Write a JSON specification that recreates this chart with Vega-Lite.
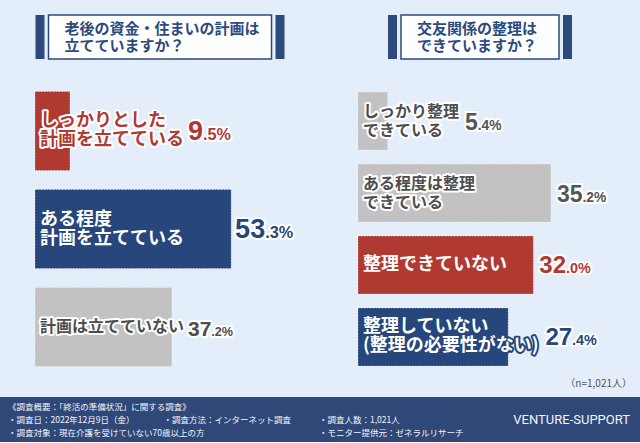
{
  "$schema": "https://vega.github.io/schema/vega-lite/v6.json",
  "background": "#e4eefa",
  "padding": {"top": 14, "left": 0, "right": 0, "bottom": 0},
  "spacing": 0,
  "config": {
    "view": {"stroke": null},
    "concat": {"spacing": 0},
    "text": {"font": "Noto Sans CJK JP"},
    "title": {"font": "Noto Sans CJK JP"}
  },
  "datasets": {
    "q1": [
      {"answer": "しっかりとした計画を立てている", "label": "しっかりとした\n計画を立てている", "value": 9.5},
      {"answer": "ある程度計画を立てている", "label": "ある程度\n計画を立てている", "value": 53.3},
      {"answer": "計画は立てていない", "label": "計画は立てていない", "value": 37.2}
    ],
    "q2": [
      {"answer": "しっかり整理できている", "label": "しっかり整理\nできている", "value": 5.4},
      {"answer": "ある程度は整理できている", "label": "ある程度は整理\nできている", "value": 35.2},
      {"answer": "整理できていない", "label": "整理できていない", "value": 32.0},
      {"answer": "整理していない（整理の必要性がない）", "label": "整理していない\n(整理の必要性がない)", "value": 27.4}
    ],
    "titles": [
      {"panel": "q1", "title": "老後の資金・住まいの計画は\n立てていますか？"},
      {"panel": "q2", "title": "交友関係の整理は\nできていますか？"}
    ],
    "footer": [
      {"col": "summary", "text": "《調査概要：「終活の準備状況」に関する調査》\n・調査日：2022年12月9日（金）\n・調査対象：現在介護を受けていない70歳以上の方"},
      {"col": "method", "text": "\n・調査方法：インターネット調査\n"},
      {"col": "count", "text": "\n・調査人数：1,021人\n・モニター提供元：ゼネラルリサーチ"},
      {"col": "brand", "text": "VENTURE-SUPPORT"}
    ]
  },
  "vconcat": [
    {
      "hconcat": [
        {
          "vconcat": [
            {
              "hconcat": [
                {"width": 9, "height": 44, "data": {"values": [{}]}, "mark": {"type": "text", "text": ""}, "view": {"fill": "#2d4a7c", "stroke": null}},
                {
                  "width": 223, "height": 44,
                  "data": {"name": "titles"},
                  "transform": [{"filter": "datum.panel == 'q1'"}],
                  "view": {"fill": "white", "stroke": "#2d4a7c", "strokeWidth": 1.5},
                  "mark": {"type": "text", "align": "left", "baseline": "middle", "dx": -95.5, "dy": -8.5, "lineBreak": "\n", "lineHeight": 17, "fontSize": 15, "fontWeight": "bold", "color": "#2d4a7c"},
                  "encoding": {"text": {"field": "title"}}
                },
                {"width": 9, "height": 44, "data": {"values": [{}]}, "mark": {"type": "text", "text": ""}, "view": {"fill": "#2d4a7c", "stroke": null}}
              ],
              "spacing": 3
            },
            {
              "width": 320, "height": 319,
              "data": {"name": "q1"},
              "transform": [
                {"calculate": "format(datum.value, '.1f')", "as": "s"},
                {"calculate": "split(datum.s, '.')[0]", "as": "ip"},
                {"calculate": "'.' + split(datum.s, '.')[1] + '%'", "as": "dp"},
                {"calculate": "indexof(['しっかりとした計画を立てている','ある程度計画を立てている'], datum.answer) >= 0", "as": "em"},
                {"calculate": "datum.em ? 18 : 16", "as": "fs"},
                {"calculate": "datum.em ? 27 : 21", "as": "vs"},
                {"calculate": "datum.vs * 0.6", "as": "ds"},
                {"calculate": "split(datum.label, '\\n')", "as": "lines"},
                {"calculate": "length(datum.lines)", "as": "nl"},
                {"calculate": "datum.fs * max(length(datum.lines[0]), length(peek(datum.lines)))", "as": "lw"},
                {"calculate": "max(datum.value, (5 + datum.lw) / 3.68)", "as": "vx"},
                {"calculate": "datum.vx + (4 + length(datum.ip) * 0.556 * datum.vs) / 3.68", "as": "anchor"}
              ],
              "encoding": {
                "y": {"field": "answer", "type": "nominal", "sort": null, "axis": null, "scale": {"range": [31.5, 306.5], "paddingInner": 0.194, "paddingOuter": 0}}
              },
              "layer": [
                {
                  "mark": {"type": "bar", "stroke": "white", "strokeDash": [1, 2], "strokeOpacity": 0.6, "strokeWidth": 1},
                  "encoding": {
                    "x": {"field": "value", "type": "quantitative", "axis": null, "scale": {"domain": [0, 100], "range": [35, 403]}},
                    "color": {"field": "answer", "type": "nominal", "legend": null, "scale": {"domain": ["しっかりとした計画を立てている", "ある程度計画を立てている", "計画は立てていない"], "range": ["#b03a32", "#26467c", "#c2c2c2"]}}
                  }
                },
                {
                  "transform": [{"filter": "datum.nl == 2"}],
                  "mark": {"type": "text", "align": "left", "baseline": "middle", "dx": 5, "dy": -9.5, "lineBreak": "\n", "lineHeight": 19, "fontWeight": "bold", "fillOpacity": 0, "strokeWidth": 4, "strokeJoin": "round"},
                  "encoding": {
                    "x": {"datum": 0, "type": "quantitative"},
                    "text": {"field": "label"},
                    "size": {"field": "fs", "type": "quantitative", "scale": null},
                    "stroke": {"field": "answer", "type": "nominal", "legend": null, "scale": {"domain": ["しっかりとした計画を立てている", "ある程度計画を立てている", "計画は立てていない"], "range": ["#ffffff", "#26467c", "#ffffff"]}}
                  }
                },
                {
                  "transform": [{"filter": "datum.nl == 1"}],
                  "mark": {"type": "text", "align": "left", "baseline": "middle", "dx": 5, "lineBreak": "\n", "lineHeight": 19, "fontWeight": "bold", "fillOpacity": 0, "strokeWidth": 4, "strokeJoin": "round"},
                  "encoding": {
                    "x": {"datum": 0, "type": "quantitative"},
                    "text": {"field": "label"},
                    "size": {"field": "fs", "type": "quantitative", "scale": null},
                    "stroke": {"field": "answer", "type": "nominal", "legend": null, "scale": {"domain": ["しっかりとした計画を立てている", "ある程度計画を立てている", "計画は立てていない"], "range": ["#ffffff", "#26467c", "#ffffff"]}}
                  }
                },
                {
                  "transform": [{"filter": "datum.nl == 2"}],
                  "mark": {"type": "text", "align": "left", "baseline": "middle", "dx": 5, "dy": -9.5, "lineBreak": "\n", "lineHeight": 19, "fontWeight": "bold"},
                  "encoding": {
                    "x": {"datum": 0, "type": "quantitative"},
                    "text": {"field": "label"},
                    "size": {"field": "fs", "type": "quantitative", "scale": null},
                    "color": {"field": "answer", "type": "nominal", "legend": null, "scale": {"domain": ["しっかりとした計画を立てている", "ある程度計画を立てている", "計画は立てていない"], "range": ["#b03a32", "#ffffff", "#4d4d4d"]}}
                  }
                },
                {
                  "transform": [{"filter": "datum.nl == 1"}],
                  "mark": {"type": "text", "align": "left", "baseline": "middle", "dx": 5, "lineBreak": "\n", "lineHeight": 19, "fontWeight": "bold"},
                  "encoding": {
                    "x": {"datum": 0, "type": "quantitative"},
                    "text": {"field": "label"},
                    "size": {"field": "fs", "type": "quantitative", "scale": null},
                    "color": {"field": "answer", "type": "nominal", "legend": null, "scale": {"domain": ["しっかりとした計画を立てている", "ある程度計画を立てている", "計画は立てていない"], "range": ["#b03a32", "#ffffff", "#4d4d4d"]}}
                  }
                },
                {
                  "mark": {"type": "text", "align": "right", "baseline": "alphabetic", "dy": 9, "font": "Liberation Sans", "fontWeight": "bold", "fill": "white", "stroke": "white", "strokeWidth": 4, "strokeJoin": "round"},
                  "encoding": {
                    "x": {"field": "anchor", "type": "quantitative"},
                    "text": {"field": "ip"},
                    "size": {"field": "vs", "type": "quantitative", "scale": null}
                  }
                },
                {
                  "mark": {"type": "text", "align": "left", "baseline": "alphabetic", "dy": 9, "font": "Liberation Sans", "fontWeight": "bold", "fill": "white", "stroke": "white", "strokeWidth": 4, "strokeJoin": "round"},
                  "encoding": {
                    "x": {"field": "anchor", "type": "quantitative"},
                    "text": {"field": "dp"},
                    "size": {"field": "ds", "type": "quantitative", "scale": null}
                  }
                },
                {
                  "mark": {"type": "text", "align": "right", "baseline": "alphabetic", "dy": 9, "font": "Liberation Sans", "fontWeight": "bold"},
                  "encoding": {
                    "x": {"field": "anchor", "type": "quantitative"},
                    "text": {"field": "ip"},
                    "size": {"field": "vs", "type": "quantitative", "scale": null},
                    "color": {"field": "answer", "type": "nominal", "legend": null, "scale": {"domain": ["しっかりとした計画を立てている", "ある程度計画を立てている", "計画は立てていない"], "range": ["#b03a32", "#26467c", "#4d4d4d"]}}
                  }
                },
                {
                  "mark": {"type": "text", "align": "left", "baseline": "alphabetic", "dy": 9, "font": "Liberation Sans", "fontWeight": "bold"},
                  "encoding": {
                    "x": {"field": "anchor", "type": "quantitative"},
                    "text": {"field": "dp"},
                    "size": {"field": "ds", "type": "quantitative", "scale": null},
                    "color": {"field": "answer", "type": "nominal", "legend": null, "scale": {"domain": ["しっかりとした計画を立てている", "ある程度計画を立てている", "計画は立てていない"], "range": ["#b03a32", "#26467c", "#4d4d4d"]}}
                  }
                }
              ],
              "resolve": {"scale": {"color": "independent", "stroke": "independent"}}
            }
          ],
          "spacing": 0,
          "center": true
        },
        {
          "vconcat": [
            {
              "hconcat": [
                {"width": 9, "height": 44, "data": {"values": [{}]}, "mark": {"type": "text", "text": ""}, "view": {"fill": "#2d4a7c", "stroke": null}},
                {
                  "width": 158, "height": 44,
                  "data": {"name": "titles"},
                  "transform": [{"filter": "datum.panel == 'q2'"}],
                  "view": {"fill": "white", "stroke": "#2d4a7c", "strokeWidth": 1.5},
                  "mark": {"type": "text", "align": "left", "baseline": "middle", "dx": -63, "dy": -8.5, "lineBreak": "\n", "lineHeight": 17, "fontSize": 15, "fontWeight": "bold", "color": "#2d4a7c"},
                  "encoding": {"text": {"field": "title"}}
                },
                {"width": 9, "height": 44, "data": {"values": [{}]}, "mark": {"type": "text", "text": ""}, "view": {"fill": "#2d4a7c", "stroke": null}}
              ],
              "spacing": 3
            },
            {
              "width": 320, "height": 319,
              "data": {"name": "q2"},
              "transform": [
                {"calculate": "format(datum.value, '.1f')", "as": "s"},
                {"calculate": "split(datum.s, '.')[0]", "as": "ip"},
                {"calculate": "'.' + split(datum.s, '.')[1] + '%'", "as": "dp"},
                {"calculate": "indexof(['整理できていない','整理していない（整理の必要性がない）'], datum.answer) >= 0", "as": "em"},
                {"calculate": "datum.em ? 18 : 16", "as": "fs"},
                {"calculate": "datum.em ? 24 : 23", "as": "vs"},
                {"calculate": "datum.vs * 0.6", "as": "ds"},
                {"calculate": "split(datum.label, '\\n')", "as": "lines"},
                {"calculate": "length(datum.lines)", "as": "nl"},
                {"calculate": "length(datum.lines[0]) - 0.6 * (length(datum.lines[0]) - length(replace(datum.lines[0], regexp('[()]', 'g'), '')))", "as": "w1"},
                {"calculate": "length(peek(datum.lines)) - 0.6 * (length(peek(datum.lines)) - length(replace(peek(datum.lines), regexp('[()]', 'g'), '')))", "as": "w2"},
                {"calculate": "datum.fs * max(datum.w1, datum.w2)", "as": "lw"},
                {"calculate": "max(datum.value, (5 + datum.lw) / 5.48)", "as": "vx"},
                {"calculate": "datum.vx + (6 + length(datum.ip) * 0.556 * datum.vs) / 5.48", "as": "anchor"}
              ],
              "encoding": {
                "y": {"field": "answer", "type": "nominal", "sort": null, "axis": null, "scale": {"range": [32, 306], "paddingInner": 0.1944, "paddingOuter": 0}}
              },
              "layer": [
                {
                  "mark": {"type": "bar", "stroke": "white", "strokeDash": [1, 2], "strokeOpacity": 0.6, "strokeWidth": 1},
                  "encoding": {
                    "x": {"field": "value", "type": "quantitative", "axis": null, "scale": {"domain": [0, 100], "range": [38, 586]}},
                    "color": {"field": "answer", "type": "nominal", "legend": null, "scale": {"domain": ["しっかり整理できている", "ある程度は整理できている", "整理できていない", "整理していない（整理の必要性がない）"], "range": ["#c2c2c2", "#c2c2c2", "#b03a32", "#26467c"]}}
                  }
                },
                {
                  "transform": [{"filter": "datum.nl == 2"}],
                  "mark": {"type": "text", "align": "left", "baseline": "middle", "dx": 5, "dy": -9.5, "lineBreak": "\n", "lineHeight": 19, "fontWeight": "bold", "fillOpacity": 0, "strokeWidth": 4, "strokeJoin": "round"},
                  "encoding": {
                    "x": {"datum": 0, "type": "quantitative"},
                    "text": {"field": "label"},
                    "size": {"field": "fs", "type": "quantitative", "scale": null},
                    "stroke": {"field": "answer", "type": "nominal", "legend": null, "scale": {"domain": ["しっかり整理できている", "ある程度は整理できている", "整理できていない", "整理していない（整理の必要性がない）"], "range": ["#ffffff", "#ffffff", "#b03a32", "#26467c"]}}
                  }
                },
                {
                  "transform": [{"filter": "datum.nl == 1"}],
                  "mark": {"type": "text", "align": "left", "baseline": "middle", "dx": 5, "lineBreak": "\n", "lineHeight": 19, "fontWeight": "bold", "fillOpacity": 0, "strokeWidth": 4, "strokeJoin": "round"},
                  "encoding": {
                    "x": {"datum": 0, "type": "quantitative"},
                    "text": {"field": "label"},
                    "size": {"field": "fs", "type": "quantitative", "scale": null},
                    "stroke": {"field": "answer", "type": "nominal", "legend": null, "scale": {"domain": ["しっかり整理できている", "ある程度は整理できている", "整理できていない", "整理していない（整理の必要性がない）"], "range": ["#ffffff", "#ffffff", "#b03a32", "#26467c"]}}
                  }
                },
                {
                  "transform": [{"filter": "datum.nl == 2"}],
                  "mark": {"type": "text", "align": "left", "baseline": "middle", "dx": 5, "dy": -9.5, "lineBreak": "\n", "lineHeight": 19, "fontWeight": "bold"},
                  "encoding": {
                    "x": {"datum": 0, "type": "quantitative"},
                    "text": {"field": "label"},
                    "size": {"field": "fs", "type": "quantitative", "scale": null},
                    "color": {"field": "answer", "type": "nominal", "legend": null, "scale": {"domain": ["しっかり整理できている", "ある程度は整理できている", "整理できていない", "整理していない（整理の必要性がない）"], "range": ["#4d4d4d", "#4d4d4d", "#ffffff", "#ffffff"]}}
                  }
                },
                {
                  "transform": [{"filter": "datum.nl == 1"}],
                  "mark": {"type": "text", "align": "left", "baseline": "middle", "dx": 5, "lineBreak": "\n", "lineHeight": 19, "fontWeight": "bold"},
                  "encoding": {
                    "x": {"datum": 0, "type": "quantitative"},
                    "text": {"field": "label"},
                    "size": {"field": "fs", "type": "quantitative", "scale": null},
                    "color": {"field": "answer", "type": "nominal", "legend": null, "scale": {"domain": ["しっかり整理できている", "ある程度は整理できている", "整理できていない", "整理していない（整理の必要性がない）"], "range": ["#4d4d4d", "#4d4d4d", "#ffffff", "#ffffff"]}}
                  }
                },
                {
                  "mark": {"type": "text", "align": "right", "baseline": "alphabetic", "dy": 8.5, "font": "Liberation Sans", "fontWeight": "bold", "fill": "white", "stroke": "white", "strokeWidth": 4, "strokeJoin": "round"},
                  "encoding": {
                    "x": {"field": "anchor", "type": "quantitative"},
                    "text": {"field": "ip"},
                    "size": {"field": "vs", "type": "quantitative", "scale": null}
                  }
                },
                {
                  "mark": {"type": "text", "align": "left", "baseline": "alphabetic", "dy": 8.5, "font": "Liberation Sans", "fontWeight": "bold", "fill": "white", "stroke": "white", "strokeWidth": 4, "strokeJoin": "round"},
                  "encoding": {
                    "x": {"field": "anchor", "type": "quantitative"},
                    "text": {"field": "dp"},
                    "size": {"field": "ds", "type": "quantitative", "scale": null}
                  }
                },
                {
                  "mark": {"type": "text", "align": "right", "baseline": "alphabetic", "dy": 8.5, "font": "Liberation Sans", "fontWeight": "bold"},
                  "encoding": {
                    "x": {"field": "anchor", "type": "quantitative"},
                    "text": {"field": "ip"},
                    "size": {"field": "vs", "type": "quantitative", "scale": null},
                    "color": {"field": "answer", "type": "nominal", "legend": null, "scale": {"domain": ["しっかり整理できている", "ある程度は整理できている", "整理できていない", "整理していない（整理の必要性がない）"], "range": ["#555555", "#555555", "#b03a32", "#26467c"]}}
                  }
                },
                {
                  "mark": {"type": "text", "align": "left", "baseline": "alphabetic", "dy": 8.5, "font": "Liberation Sans", "fontWeight": "bold"},
                  "encoding": {
                    "x": {"field": "anchor", "type": "quantitative"},
                    "text": {"field": "dp"},
                    "size": {"field": "ds", "type": "quantitative", "scale": null},
                    "color": {"field": "answer", "type": "nominal", "legend": null, "scale": {"domain": ["しっかり整理できている", "ある程度は整理できている", "整理できていない", "整理していない（整理の必要性がない）"], "range": ["#555555", "#555555", "#b03a32", "#26467c"]}}
                  }
                }
              ],
              "resolve": {"scale": {"color": "independent", "stroke": "independent"}}
            }
          ],
          "spacing": 0,
          "center": true
        }
      ],
      "spacing": 0
    },
    {
      "width": 640, "height": 45,
      "data": {"name": "footer"},
      "view": {"fill": "#2f4878", "stroke": null},
      "title": {"text": "（n=1,021人）", "anchor": "end", "frame": "group", "orient": "top", "offset": 8, "fontSize": 10, "fontWeight": "normal", "color": "#555555", "dx": -8},
      "encoding": {
        "x": {"field": "col", "type": "nominal", "axis": null, "scale": {"type": "band", "domain": ["summary", "method", "count", "brand"], "range": [8, 630], "paddingInner": 0, "paddingOuter": 0}}
      },
      "layer": [
        {
          "transform": [{"filter": "datum.col != 'brand'"}],
          "mark": {"type": "text", "align": "left", "baseline": "middle", "dy": -13, "lineBreak": "\n", "lineHeight": 13, "fontSize": 8.5, "color": "#f2f5fa"},
          "encoding": {
            "x": {"field": "col", "type": "nominal", "bandPosition": 0},
            "text": {"field": "text"}
          }
        },
        {
          "transform": [{"filter": "datum.col == 'brand'"}],
          "mark": {"type": "text", "align": "right", "baseline": "middle", "fontSize": 13, "font": "Roboto", "color": "#f2f5fa"},
          "encoding": {
            "x": {"field": "col", "type": "nominal", "bandPosition": 1},
            "text": {"field": "text"}
          }
        }
      ]
    }
  ]
}
